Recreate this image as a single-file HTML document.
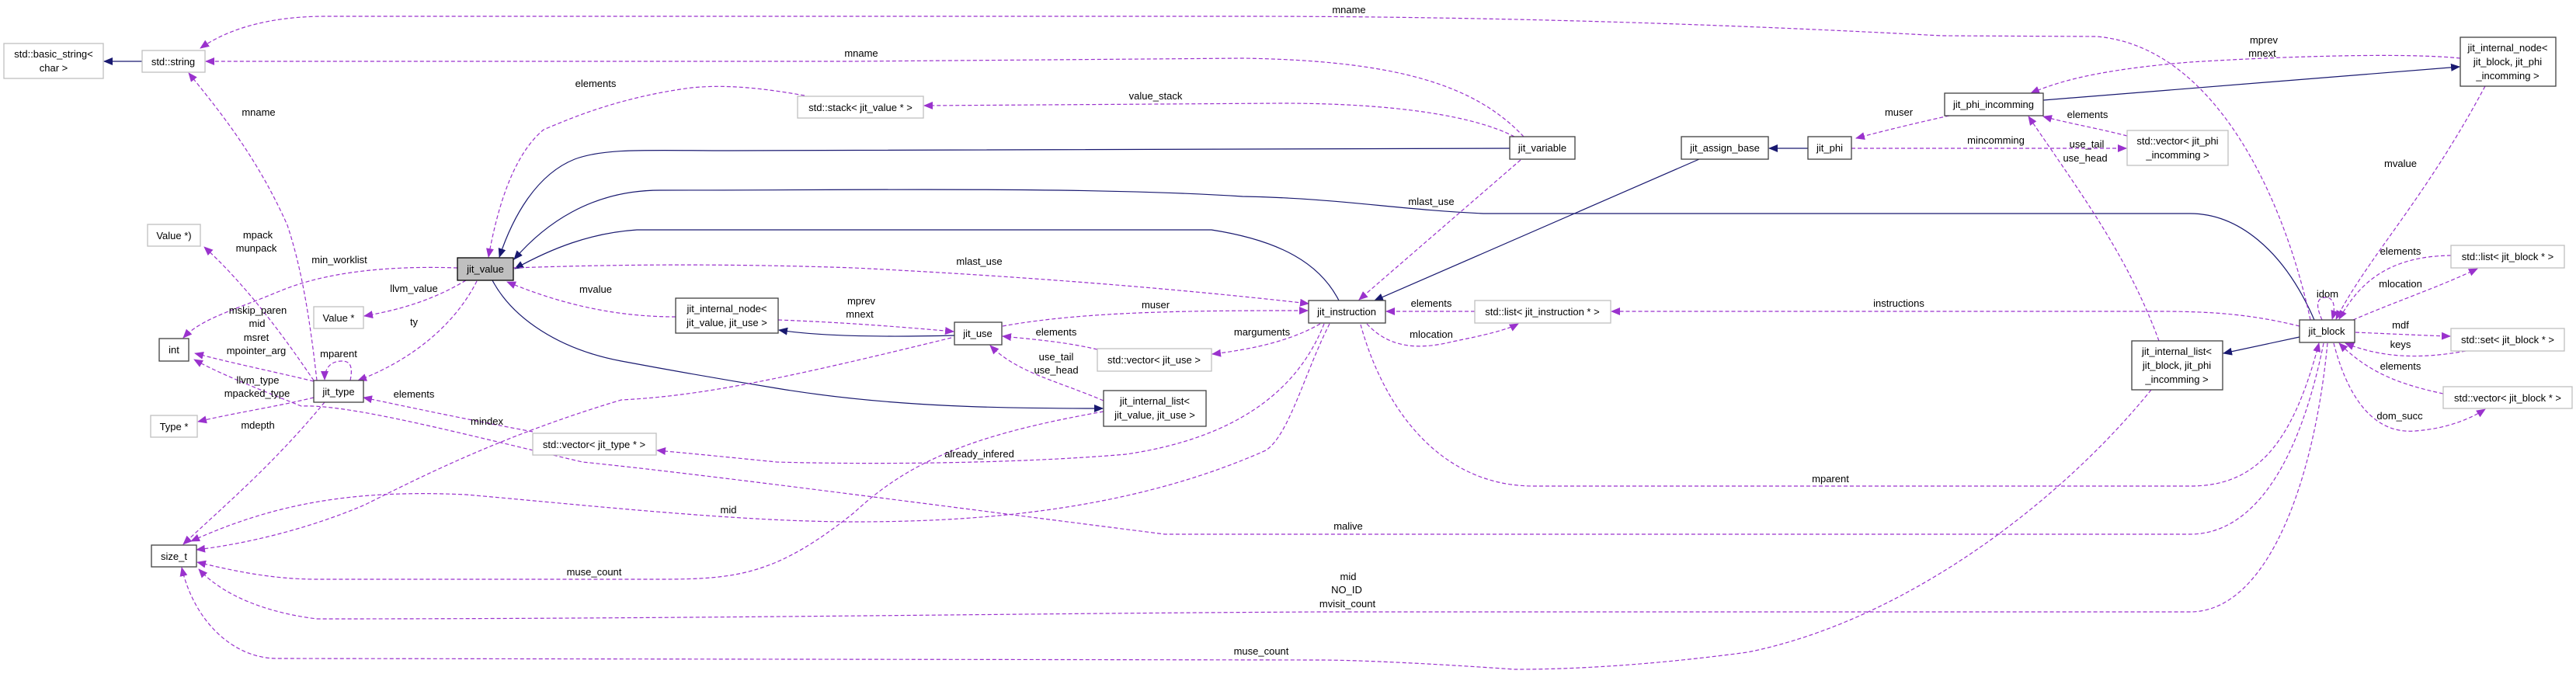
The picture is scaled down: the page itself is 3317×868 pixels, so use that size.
<!DOCTYPE html>
<html><head><meta charset="utf-8">
<style>
html,body{margin:0;padding:0;background:#fff;}
svg{display:block;}
text{font-family:"Liberation Sans",Arial,sans-serif;font-size:13px;fill:#000;}
.l{text-anchor:middle;}
.d{fill:none;stroke:#9a32cd;stroke-width:1.2;stroke-dasharray:5,3;}
.s{fill:none;stroke:#191970;stroke-width:1.2;}
.bk{fill:#fff;stroke:#404040;stroke-width:1.3;}
.gy{fill:#fff;stroke:#bfbfbf;stroke-width:1.3;}
</style></head><body>
<svg width="3317" height="868" viewBox="0 0 3317 868" xmlns="http://www.w3.org/2000/svg">
<defs>
<marker id="p" markerWidth="12" markerHeight="10" refX="11" refY="5" orient="auto" markerUnits="userSpaceOnUse"><path d="M0,0 L12,5 L0,10 z" fill="#9a32cd"/></marker>
<marker id="n" markerWidth="12" markerHeight="10" refX="11" refY="5" orient="auto" markerUnits="userSpaceOnUse"><path d="M0,0 L12,5 L0,10 z" fill="#191970"/></marker>
</defs>

<!-- solid inheritance edges -->
<path class="s" marker-end="url(#n)" d="M183,79 L134,79"/>
<path class="s" marker-end="url(#n)" d="M1944,191 L940,194 C840,194 780,190 740,205 C690,225 660,280 643,331"/>
<path class="s" marker-end="url(#n)" d="M2980,412 C2940,320 2880,275 2820,275 L1910,275 C1800,270 1720,255 1600,253 C1400,240 1100,245 850,245 C760,245 700,290 662,334"/>
<path class="s" marker-end="url(#n)" d="M1724,387 C1700,340 1650,310 1560,296 L820,296 C760,300 710,320 663,346"/>
<path class="s" marker-end="url(#n)" d="M634,361 C660,410 720,450 800,465 C880,480 920,487 1000,500 C1150,525 1300,526 1420,526"/>
<path class="s" marker-end="url(#n)" d="M1229,432 C1150,434 1060,434 1003,425"/>
<path class="s" marker-end="url(#n)" d="M2188,205 L1770,387"/>
<path class="s" marker-end="url(#n)" d="M2328,191 L2278,191"/>
<path class="s" marker-end="url(#n)" d="M2631,129 L3167,86"/>
<path class="s" marker-end="url(#n)" d="M2961,434 L2863,455"/>

<!-- dashed member edges -->
<path class="d" marker-end="url(#p)" d="M2975,412 C2940,250 2850,60 2700,47 L2500,46 C2200,30 1900,21 1600,21 L420,21 C340,21 290,40 258,62"/>
<path class="d" marker-end="url(#p)" d="M1962,176 C1900,110 1800,78 1600,75 L1100,79 L265,79"/>
<path class="d" marker-end="url(#p)" d="M408,490 C400,420 390,350 370,290 C330,200 280,140 243,94"/>
<path class="d" marker-end="url(#p)" d="M1036,123 C990,115 940,108 890,113 C800,125 740,150 700,167 C660,200 640,270 629,331"/>
<path class="d" marker-end="url(#p)" d="M1950,176 C1900,150 1800,133 1650,133 L1190,136"/>
<path class="d" marker-end="url(#p)" d="M661,345 C750,342 900,338 1100,345 C1300,355 1500,370 1685,391"/>
<path class="d" marker-end="url(#p)" d="M1958,206 L1750,386"/>
<path class="d" marker-end="url(#p)" d="M870,408 C800,408 730,395 653,363"/>
<path class="d" marker-end="url(#p)" d="M1002,412 C1080,415 1150,420 1228,427"/>
<path class="d" marker-end="url(#p)" d="M1291,420 C1400,400 1550,400 1684,400"/>
<path class="d" marker-end="url(#p)" d="M1413,450 C1370,440 1330,437 1291,433"/>
<path class="d" marker-end="url(#p)" d="M1700,417 C1660,440 1610,450 1561,456"/>
<path class="d" marker-end="url(#p)" d="M1421,516 C1360,490 1310,480 1275,445"/>
<path class="d" marker-end="url(#p)" d="M1899,401 L1785,401"/>
<path class="d" marker-end="url(#p)" d="M1760,417 C1790,450 1830,450 1870,440 C1910,432 1940,425 1955,417"/>
<path class="d" marker-end="url(#p)" d="M2961,420 C2900,405 2850,401 2780,401 L2075,401"/>
<path class="d" marker-end="url(#p)" d="M2384,191 L2738,191"/>
<path class="d" marker-end="url(#p)" d="M2739,175 C2700,165 2660,158 2631,150"/>
<path class="d" marker-end="url(#p)" d="M2510,149 C2460,160 2420,170 2390,178"/>
<path class="d" marker-end="url(#p)" d="M3168,75 C3100,68 2950,72 2820,80 C2700,90 2650,105 2615,120"/>
<path class="d" marker-end="url(#p)" d="M2780,439 C2740,330 2680,250 2612,150"/>
<path class="d" marker-end="url(#p)" d="M3200,111 C3120,260 3050,330 3008,411"/>
<path class="d" marker-end="url(#p)" d="M2990,412 C2980,390 2985,383 2995,383 C3005,383 3008,395 3003,411"/>
<path class="d" marker-end="url(#p)" d="M3156,329 C3080,330 3040,360 3012,411"/>
<path class="d" marker-end="url(#p)" d="M3030,412 C3080,390 3140,370 3190,346"/>
<path class="d" marker-end="url(#p)" d="M3033,428 C3080,430 3120,432 3155,433"/>
<path class="d" marker-end="url(#p)" d="M3175,452 C3120,462 3070,462 3020,442"/>
<path class="d" marker-end="url(#p)" d="M3146,507 C3090,495 3050,480 3012,442"/>
<path class="d" marker-end="url(#p)" d="M3005,442 C3020,500 3050,560 3110,555 C3150,552 3180,540 3200,527"/>
<path class="d" marker-end="url(#p)" d="M1752,418 C1780,520 1850,626 1975,626 L2820,626 C2900,626 2950,580 2986,442"/>
<path class="d" marker-end="url(#p)" d="M2992,442 C2960,600 2900,688 2820,688 L1500,688 C1200,650 900,610 750,595 C600,560 450,520 388,523 C330,500 280,480 250,463"/>
<path class="d" marker-end="url(#p)" d="M2997,442 C2980,620 2920,788 2820,788 L1700,788 C1300,790 900,797 408,797 C350,790 290,770 256,733"/>
<path class="d" marker-end="url(#p)" d="M1712,417 C1680,480 1660,560 1630,580 C1450,660 1250,672 1100,672 C950,672 750,650 600,637 C450,630 350,650 246,697"/>
<path class="d" marker-end="url(#p)" d="M1225,435 C1000,490 900,510 800,515 C650,560 550,610 470,650 C400,680 320,700 253,708"/>
<path class="d" marker-end="url(#p)" d="M418,518 C350,600 290,650 236,701"/>
<path class="d" marker-end="url(#p)" d="M1421,530 C1250,560 1170,595 1100,660 C1000,740 950,746 850,746 L408,746 C350,746 300,735 254,724"/>
<path class="d" marker-end="url(#p)" d="M2770,502 C2650,650 2450,800 2250,840 C2100,860 2000,862 1950,862 C1850,855 1750,850 1700,850 L357,848 C300,848 250,800 234,731"/>
<path class="d" marker-end="url(#p)" d="M1705,417 C1680,480 1620,560 1450,585 C1300,598 1100,598 1000,595 C950,590 900,585 846,580"/>
<path class="d" marker-end="url(#p)" d="M686,556 C600,540 530,525 468,512"/>
<path class="d" marker-end="url(#p)" d="M589,345 C500,342 420,350 360,375 C300,400 260,410 236,435"/>
<path class="d" marker-end="url(#p)" d="M600,361 C560,385 520,398 469,407"/>
<path class="d" marker-end="url(#p)" d="M614,362 C590,410 540,460 461,490"/>
<path class="d" marker-end="url(#p)" d="M404,490 C370,440 320,370 263,318"/>
<path class="d" marker-end="url(#p)" d="M404,491 C350,478 300,468 251,455"/>
<path class="d" marker-end="url(#p)" d="M404,512 C350,525 300,532 255,543"/>
<path class="d" marker-end="url(#p)" d="M451,490 C455,470 450,465 440,465 C425,465 418,475 418,489"/>

<!-- nodes -->
<rect class="gy" x="5" y="56" width="128" height="45"/>
<text class="l" x="69" y="74">std::basic_string&lt;</text><text class="l" x="69" y="92">char &gt;</text>
<rect class="gy" x="183" y="65" width="81" height="28"/><text class="l" x="223" y="84">std::string</text>
<rect class="gy" x="190" y="289" width="68" height="28"/><text class="l" x="224" y="308">Value *)</text>
<rect x="589" y="332" width="72" height="29" fill="#bfbfbf" stroke="#000" stroke-width="1.3"/><text class="l" x="625" y="351">jit_value</text>
<rect class="gy" x="404" y="395" width="64" height="28"/><text class="l" x="436" y="414">Value *</text>
<rect class="bk" x="205" y="436" width="38" height="29"/><text class="l" x="224" y="455">int</text>
<rect class="bk" x="404" y="490" width="64" height="28"/><text class="l" x="436" y="509">jit_type</text>
<rect class="gy" x="194" y="535" width="60" height="28"/><text class="l" x="224" y="554">Type *</text>
<rect class="bk" x="195" y="702" width="58" height="28"/><text class="l" x="224" y="721">size_t</text>
<rect class="gy" x="686" y="558" width="159" height="28"/><text class="l" x="765" y="577">std::vector&lt; jit_type * &gt;</text>
<rect class="gy" x="1027" y="124" width="162" height="28"/><text class="l" x="1108" y="143">std::stack&lt; jit_value * &gt;</text>
<rect class="bk" x="870" y="384" width="132" height="45"/><text class="l" x="936" y="402">jit_internal_node&lt;</text><text class="l" x="936" y="420">jit_value, jit_use &gt;</text>
<rect class="bk" x="1229" y="415" width="61" height="29"/><text class="l" x="1259" y="434">jit_use</text>
<rect class="gy" x="1413" y="449" width="147" height="29"/><text class="l" x="1486" y="468">std::vector&lt; jit_use &gt;</text>
<rect class="bk" x="1421" y="503" width="132" height="46"/><text class="l" x="1487" y="521">jit_internal_list&lt;</text><text class="l" x="1487" y="539">jit_value, jit_use &gt;</text>
<rect class="bk" x="1944" y="176" width="84" height="29"/><text class="l" x="1986" y="195">jit_variable</text>
<rect class="bk" x="2165" y="176" width="112" height="29"/><text class="l" x="2221" y="195">jit_assign_base</text>
<rect class="bk" x="2328" y="176" width="56" height="29"/><text class="l" x="2356" y="195">jit_phi</text>
<rect class="bk" x="1685" y="387" width="99" height="29"/><text class="l" x="1734" y="406">jit_instruction</text>
<rect class="gy" x="1899" y="387" width="175" height="29"/><text class="l" x="1986" y="406">std::list&lt; jit_instruction * &gt;</text>
<rect class="bk" x="3168" y="48" width="123" height="63"/><text class="l" x="3229" y="66">jit_internal_node&lt;</text><text class="l" x="3229" y="84">jit_block, jit_phi</text><text class="l" x="3229" y="102">_incomming &gt;</text>
<rect class="bk" x="2504" y="120" width="127" height="29"/><text class="l" x="2567" y="139">jit_phi_incomming</text>
<rect class="gy" x="2739" y="168" width="130" height="45"/><text class="l" x="2804" y="186">std::vector&lt; jit_phi</text><text class="l" x="2804" y="204">_incomming &gt;</text>
<rect class="gy" x="3156" y="316" width="146" height="29"/><text class="l" x="3229" y="335">std::list&lt; jit_block * &gt;</text>
<rect class="bk" x="2961" y="412" width="71" height="29"/><text class="l" x="2996" y="431">jit_block</text>
<rect class="gy" x="3156" y="423" width="146" height="29"/><text class="l" x="3229" y="442">std::set&lt; jit_block * &gt;</text>
<rect class="bk" x="2745" y="439" width="117" height="63"/><text class="l" x="2803" y="457">jit_internal_list&lt;</text><text class="l" x="2803" y="475">jit_block, jit_phi</text><text class="l" x="2803" y="493">_incomming &gt;</text>
<rect class="gy" x="3146" y="498" width="166" height="28"/><text class="l" x="3229" y="517">std::vector&lt; jit_block * &gt;</text>

<!-- edge labels -->
<g class="l">
<text class="l" x="1737" y="17">mname</text>
<text class="l" x="1109" y="73">mname</text>
<text class="l" x="333" y="149">mname</text>
<text class="l" x="767" y="112">elements</text>
<text class="l" x="1488" y="128">value_stack</text>
<text class="l" x="437" y="339">min_worklist</text>
<text class="l" x="1261" y="341">mlast_use</text>
<text class="l" x="1843" y="264">mlast_use</text>
<text class="l" x="767" y="377">mvalue</text>
<text class="l" x="1109" y="392">mprev</text>
<text class="l" x="1107" y="409">mnext</text>
<text class="l" x="1488" y="397">muser</text>
<text class="l" x="1360" y="432">elements</text>
<text class="l" x="1625" y="432">marguments</text>
<text class="l" x="1360" y="464">use_tail</text>
<text class="l" x="1360" y="481">use_head</text>
<text class="l" x="1843" y="395">elements</text>
<text class="l" x="1843" y="435">mlocation</text>
<text class="l" x="2445" y="395">instructions</text>
<text class="l" x="2570" y="185">mincomming</text>
<text class="l" x="2688" y="152">elements</text>
<text class="l" x="2445" y="149">muser</text>
<text class="l" x="2915" y="56">mprev</text>
<text class="l" x="2913" y="73">mnext</text>
<text class="l" x="2687" y="190">use_tail</text>
<text class="l" x="2685" y="208">use_head</text>
<text class="l" x="3091" y="215">mvalue</text>
<text class="l" x="2997" y="383">idom</text>
<text class="l" x="3091" y="328">elements</text>
<text class="l" x="3091" y="370">mlocation</text>
<text class="l" x="3091" y="423">mdf</text>
<text class="l" x="3091" y="448">keys</text>
<text class="l" x="3091" y="476">elements</text>
<text class="l" x="3090" y="540">dom_succ</text>
<text class="l" x="2357" y="621">mparent</text>
<text class="l" x="1736" y="682">malive</text>
<text class="l" x="1736" y="747">mid</text>
<text class="l" x="1734" y="764">NO_ID</text>
<text class="l" x="1735" y="782">mvisit_count</text>
<text class="l" x="1624" y="843">muse_count</text>
<text class="l" x="765" y="741">muse_count</text>
<text class="l" x="938" y="661">mid</text>
<text class="l" x="627" y="547">mindex</text>
<text class="l" x="1261" y="589">already_infered</text>
<text class="l" x="533" y="512">elements</text>
<text class="l" x="332" y="552">mdepth</text>
<text class="l" x="533" y="376">llvm_value</text>
<text class="l" x="533" y="419">ty</text>
<text class="l" x="332" y="307">mpack</text>
<text class="l" x="330" y="324">munpack</text>
<text class="l" x="332" y="404">mskip_paren</text>
<text class="l" x="331" y="421">mid</text>
<text class="l" x="330" y="439">msret</text>
<text class="l" x="330" y="456">mpointer_arg</text>
<text class="l" x="332" y="494">llvm_type</text>
<text class="l" x="331" y="511">mpacked_type</text>
<text class="l" x="436" y="460">mparent</text>
</g>
</svg>
</body></html>
